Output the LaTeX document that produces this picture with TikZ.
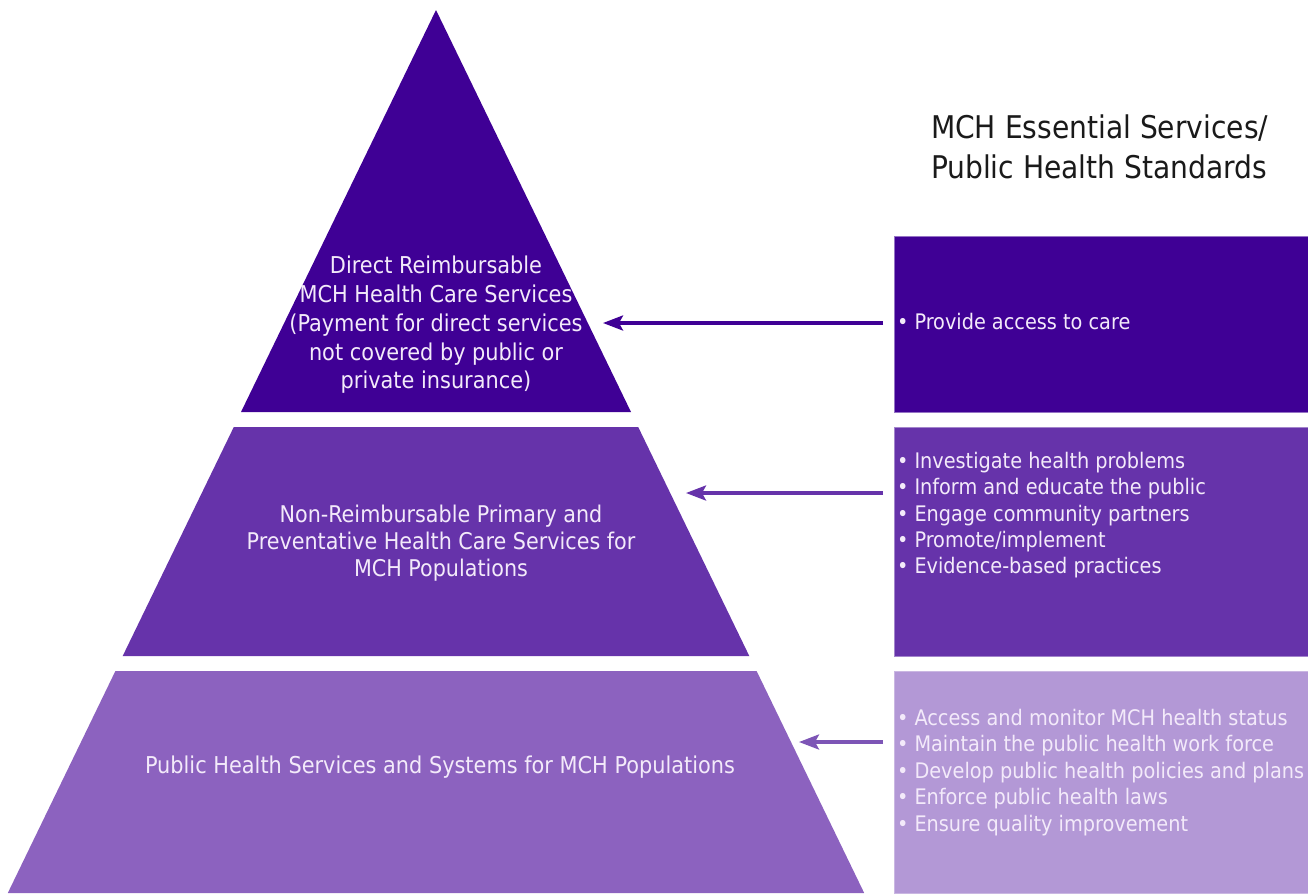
\documentclass[tikz,border=0pt]{standalone}
\usepackage{fontspec}
\setmainfont{DejaVu Sans Condensed}
\usetikzlibrary{arrows.meta}
\usetikzlibrary{positioning}
\definecolor{deepviolet}{HTML}{3F0095}
\definecolor{midviolet}{HTML}{6633AA}
\definecolor{softviolet}{HTML}{8C62BF}
\definecolor{arrowviolet}{HTML}{7D55B6}
\definecolor{paleviolet}{HTML}{B398D6}
\definecolor{lilacwhite}{HTML}{F3EAFA}
\definecolor{titleink}{HTML}{1A1A1A}
\tikzstyle{base}=[inner sep=0pt, outer sep=0pt]
\tikzstyle{tiertext}=[base, text=lilacwhite, align=center]
\tikzstyle{listtext}=[base, text=lilacwhite, align=left, anchor=north west, font=\fontsize{12.2}{15}\selectfont]
\tikzstyle{panel}=[base, anchor=north west, minimum width=8.28cm, line width=0.4pt]
\tikzstyle{pointer}=[-{Stealth[length=0.4cm, width=0.3cm, inset=0.08cm]}, line width=1.9pt, shorten <=0.22cm]

\begin{document}
\begin{tikzpicture}[x=0.02cm, y=-0.02cm]
    \useasboundingbox (0,0) rectangle (1308,893);
    % pyramid tiers
    \fill[deepviolet] (436,10) -- (631,412) -- (241,412) -- cycle;
    \fill[midviolet] (233.8,427) -- (638.2,427) -- (749.3,656) -- (122.7,656) -- cycle;
    \fill[softviolet] (115.4,671) -- (756.6,671) -- (864.2,893) -- (7.8,893) -- cycle;
    \node[tiertext, anchor=north, font=\fontsize{13.2}{16.4}\selectfont] (direct) at (436,256)
        {Direct Reimbursable\\MCH Health Care Services\\(Payment for direct services\\not covered by public or\\private insurance)};
    \node[tiertext, anchor=north, font=\fontsize{13.1}{15.4}\selectfont] (primary) at (441,505)
        {Non-Reimbursable Primary and\\Preventative Health Care Services for\\MCH Populations};
    \node[tiertext, anchor=base, font=\fontsize{13.2}{15}\selectfont] (systems) at (440,773)
        {Public Health Services and Systems for MCH Populations};
    % standards column
    \node[base, anchor=north west, align=left, text=titleink, font=\fontsize{17.8}{22.8}\selectfont] (title) at (931,115)
        {MCH Essential Services/\\Public Health Standards};
    \node[panel, fill=deepviolet, draw=deepviolet!55!white, minimum height=3.52cm] (care) at (894,236) {};
    \node[panel, fill=midviolet, draw=midviolet!60!white, minimum height=4.58cm] (inform) at (894,427) {};
    \node[panel, fill=paleviolet, draw=paleviolet!70!white, minimum height=4.44cm] (assess) at (894,671) {};
    \node[listtext] (carelist) at (897,313) {• Provide access to care};
    \node[listtext] (informlist) at (897,452)
        {• Investigate health problems\\• Inform and educate the public\\• Engage community partners\\• Promote/implement\\• Evidence-based practices};
    \node[listtext, font=\fontsize{12.2}{15.1}\selectfont] (assesslist) at (897,709)
        {• Access and monitor MCH health status\\• Maintain the public health work force\\• Develop public health policies and plans\\• Enforce public health laws\\• Ensure quality improvement};
    % arrows into the tiers
    \coordinate (tip1) at (603,323);
    \coordinate (tip2) at (686,493);
    \coordinate (tip3) at (799,742);
    \draw[pointer, deepviolet] (care.west |- tip1) -- (tip1);
    \draw[pointer, midviolet] (inform.west |- tip2) -- (tip2);
    \draw[pointer, arrowviolet] (assess.west |- tip3) -- (tip3);
\end{tikzpicture}
\end{document}
